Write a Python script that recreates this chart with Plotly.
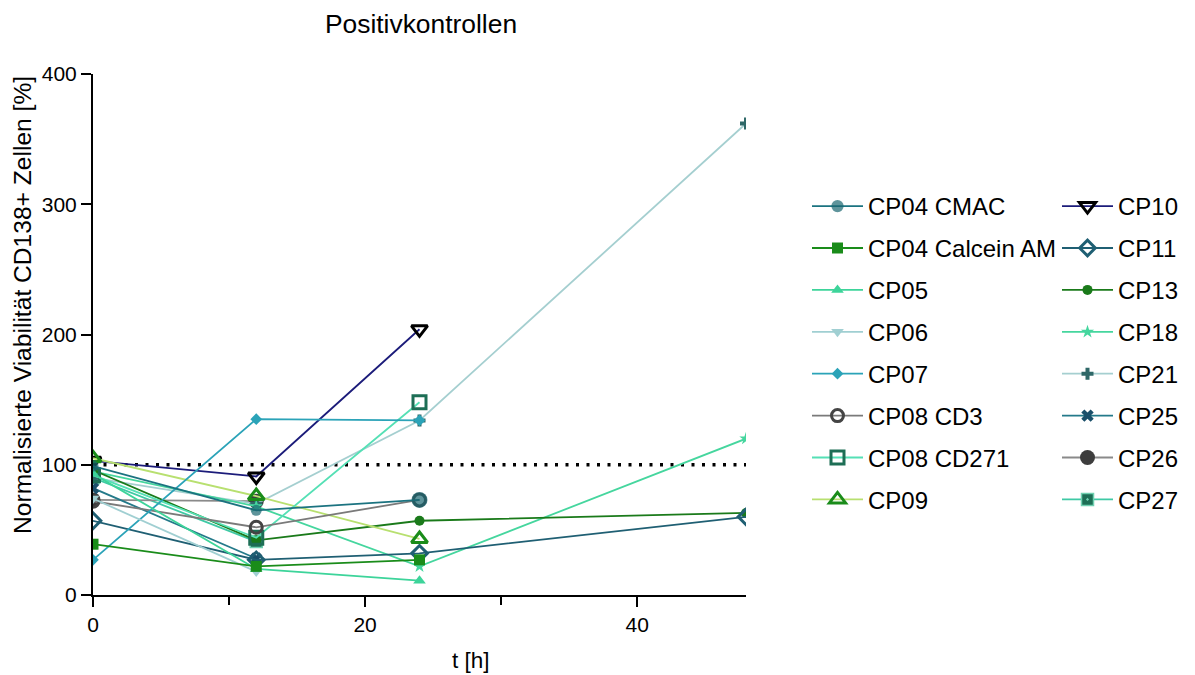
import plotly.graph_objects as go

t_hours = [0, 12, 24, 48]

names = ["CP04 CMAC", "CP04 Calcein AM", "CP05", "CP06", "CP07", "CP08 CD3",
         "CP08 CD271", "CP09", "CP10", "CP11", "CP13", "CP18", "CP21", "CP25",
         "CP26", "CP27"]

cp04_cmac = [99, 65, 73, None]
cp04_calcein = [39, 22, 27, None]
cp05 = [93, 20, 11, None]
cp06 = [74, 18, None, None]
cp07 = [27, 135, 134, None]
cp08_cd3 = [72, 52, 73, None]
cp08_cd271 = [92, 44, 148, None]
cp09 = [105, 76, 43, None]
cp10 = [103, 91, 204, None]
cp11 = [57, 27, 32, 60]
cp13 = [96, 42, 57, 63]
cp18 = [95, 68, 22, 120]
cp21 = [90, 70, 134, 362]
cp25 = [82, 28, None, None]
cp26 = [73, 72, None, None]
cp27 = [90, 41, None, None]

series = [cp04_cmac, cp04_calcein, cp05, cp06, cp07, cp08_cd3, cp08_cd271, cp09,
          cp10, cp11, cp13, cp18, cp21, cp25, cp26, cp27]

reference_line = [100, 100]
reference_t = [0, 48]

styles = [
    dict(lc="#1b7380", mc="#1a6670", sym="circle", size=[11, 11, 16, 11], mlw=0, mlc=None),
    dict(lc="#1a8c1a", mc="#1a8c1a", sym="square", size=11, mlw=0, mlc=None),
    dict(lc="#3dd49a", mc="#3dd49a", sym="triangle-up", size=11, mlw=0, mlc=None),
    dict(lc="#a0cfd2", mc="#a0cfd2", sym="triangle-down", size=11, mlw=0, mlc=None),
    dict(lc="#2ba3b8", mc="#2ba3b8", sym="diamond", size=9, mlw=0, mlc=None),
    dict(lc="#7a7a7a", mc="#444444", sym="circle-open", size=12, mlw=3, mlc="#444444"),
    dict(lc="#55e0b5", mc="#1d6e55", sym="square-open", size=13, mlw=3, mlc="#1d6e55"),
    dict(lc="#b8e070", mc="#1a8c1a", sym="triangle-up-open", size=14, mlw=3, mlc="#1a8c1a"),
    dict(lc="#1c1c7a", mc="#000000", sym="triangle-down-open", size=14, mlw=3, mlc="#000000"),
    dict(lc="#1f5f73", mc="#1f5f73", sym="diamond-open", size=12, mlw=3, mlc="#1f5f73"),
    dict(lc="#1a7a1a", mc="#1a7a1a", sym="circle", size=10, mlw=0, mlc=None),
    dict(lc="#45d69e", mc="#45d69e", sym="star", size=10, mlw=0, mlc=None),
    dict(lc="#a5cfd0", mc="#2f6868", sym="cross", size=10, mlw=0, mlc=None),
    dict(lc="#247a8a", mc="#1a4f6a", sym="x", size=11, mlw=0, mlc=None),
    dict(lc="#8a8a8a", mc="#3d3d3d", sym="circle", size=15, mlw=0, mlc=None),
    dict(lc="#3fc9a5", mc="#1d6e55", sym="square-dot", size=12, mlw=1.5, mlc="#6fd0b0"),
]

# earlier data sets are drawn on top (as in the reference)
draw_order = list(range(len(names)))[::-1]

fig = go.Figure()

fig.add_trace(go.Scatter(x=reference_t, y=reference_line, mode="lines",
                         line=dict(color="black", width=3.5, dash="3px,7.5px"),
                         showlegend=False, hoverinfo="skip"))

for i in draw_order:
    name, vals, st = names[i], series[i], styles[i]
    marker = dict(symbol=st["sym"], size=st["size"], color=st["mc"])
    if st["mlw"]:
        marker["line"] = dict(width=st["mlw"], color=st["mlc"])
    else:
        marker["line"] = dict(width=0)
    fig.add_trace(go.Scatter(
        x=t_hours, y=vals, name=name, mode="lines+markers",
        line=dict(color=st["lc"], width=1.8),
        marker=marker,
        legend="legend" if i < 8 else "legend2",
        legendgroup=name, legendrank=i + 1,
    ))

font_family = "Arial, Liberation Sans, sans-serif"

# page body has an 8px margin, so figure coords = picture coords - 8
W, H = 1187, 667
L, R, T, B = 85, 738, 66, 587

legend_common = dict(
    xref="container", yref="container", yanchor="top", xanchor="left",
    font=dict(size=24, color="black", family=font_family),
    tracegroupgap=7.7, bgcolor="rgba(0,0,0,0)", itemwidth=51,
    traceorder="grouped", maxheight=520,
)

fig.update_layout(
    width=W, height=H,
    margin=dict(l=L, r=W - R, t=T, b=H - B, autoexpand=False),
    paper_bgcolor="white", plot_bgcolor="white",
    font=dict(family=font_family, color="black"),
    title=dict(text="Positivkontrollen", x=413 / W, xanchor="center",
               y=1 - 16 / H, yanchor="middle",
               font=dict(size=26.4, color="black", family=font_family)),
    xaxis=dict(range=[0, 48], showgrid=False, zeroline=False, automargin=False,
               showline=True, linecolor="black", linewidth=2,
               ticks="outside", ticklen=10, tickwidth=2, tickcolor="black",
               tickvals=[0, 20, 40], tickfont=dict(size=21),
               minor=dict(tickvals=[10, 30], ticks="outside", ticklen=8,
                          tickwidth=2, tickcolor="black")),
    yaxis=dict(range=[0, 400], showgrid=False, zeroline=False, automargin=False,
               showline=True, linecolor="black", linewidth=2,
               ticks="outside", ticklen=10, tickwidth=2, tickcolor="black",
               tickvals=[0, 100, 200, 300, 400], tickfont=dict(size=21)),
    legend=dict(x=799 / W, y=1 - 176 / H, **legend_common),
    legend2=dict(x=1049 / W, y=1 - 176 / H, **legend_common),
    annotations=[
        dict(text="t [h]", xref="paper", yref="paper",
             x=(463 - L) / (R - L), y=-(652 - B) / (B - T),
             xanchor="center", yanchor="middle", showarrow=False,
             font=dict(size=22.5, color="black", family=font_family)),
        dict(text="Normalisierte Viabilität CD138+ Zellen [%]",
             xref="paper", yref="paper", textangle=-90,
             x=-(L - 14) / (R - L), y=(B - 297) / (B - T),
             xanchor="center", yanchor="middle", showarrow=False,
             font=dict(size=24.6, color="black", family=font_family)),
    ],
)

fig.write_html("out.html")
